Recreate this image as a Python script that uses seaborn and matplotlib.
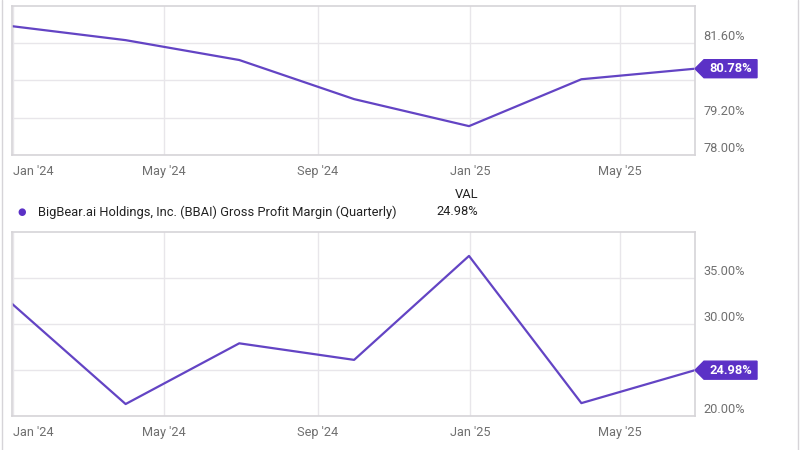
import numpy as np
import pandas as pd
import matplotlib
matplotlib.use("Agg")
import matplotlib.pyplot as plt
import matplotlib.dates as mdates
from matplotlib.patches import Polygon
import seaborn as sns

sns.set_theme(style="white")
plt.rcParams['font.family'] = ['Roboto', 'DejaVu Sans']

# quarterly data
quarters = ["2023-12-31", "2024-03-31", "2024-06-30", "2024-09-30",
            "2024-12-31", "2025-03-31", "2025-06-30"]
margin_top = [82.15, 81.70, 81.06, 79.80, 78.93, 80.44, 80.78]
margin_bbai = [32.2, 21.3, 27.9, 26.1, 37.4, 21.4, 24.98]

top_ticks = [78.00, 79.20, 80.40, 81.60]
bot_ticks = [20.0, 25.0, 30.0, 35.0]
x_ticks = ["2024-01-01", "2024-05-01", "2024-09-01", "2025-01-01", "2025-05-01"]

legend_name = "BigBear.ai Holdings, Inc. (BBAI) Gross Profit Margin (Quarterly)"

LINE = "#6344c4"
BADGE = "#5b31c6"
GRID = "#e8e6ea"
EDGE = "#d6d4d8"
TICK = "#707070"

W, H = 800, 450
fig = plt.figure(figsize=(8, 4.5), dpi=100)
fig.patch.set_facecolor("white")

df = pd.DataFrame({"date": pd.to_datetime(quarters),
                   "top": margin_top, "bbai": margin_bbai})


def make_ax(y_top_px, y_bot_px):
    return fig.add_axes([12 / W, 1 - y_bot_px / H, (695 - 12) / W, (y_bot_px - y_top_px) / H])


def style(ax, ylim, yticks, hidden):
    ax.set_xlim(pd.Timestamp("2023-12-31"), pd.Timestamp("2025-06-30"))
    ax.set_ylim(*ylim)
    ax.set_xticks(pd.to_datetime(x_ticks))
    ax.xaxis.set_major_formatter(mdates.DateFormatter("%b '%y"))
    ax.set_yticks(yticks)
    ax.yaxis.tick_right()
    labels = [f"{v:.2f}%" if v != hidden else "" for v in yticks]
    ax.set_yticklabels(labels)
    ax.grid(True, color=GRID, linewidth=1)
    ax.tick_params(axis="both", length=0, labelsize=9.2, labelcolor=TICK)
    ax.tick_params(axis="y", pad=6)
    ax.tick_params(axis="x", pad=7)
    for lab in ax.get_yticklabels():
        lab.set_verticalalignment("bottom")
    ax.get_xticklabels()[0].set_horizontalalignment("left")
    for s in ax.spines.values():
        s.set_color(EDGE)
        s.set_linewidth(1.2)
    ax.set_xlabel("")
    ax.set_ylabel("")


def badge(ax, value, text):
    bbox = ax.get_window_extent()
    ymin, ymax = ax.get_ylim()
    dy = (ymax - ymin) / bbox.height
    dx = 1.0 / bbox.width
    h = 9 * dy
    pts = [(1.0, value), (1 + 9 * dx, value + h), (1 + 62 * dx, value + h),
           (1 + 62 * dx, value - h), (1 + 9 * dx, value - h)]
    poly = Polygon(pts, closed=True, transform=ax.get_yaxis_transform(),
                   facecolor=BADGE, edgecolor=BADGE, clip_on=False, zorder=10)
    ax.add_patch(poly)
    ax.text(1 + 36 * dx, value, text, transform=ax.get_yaxis_transform(),
            ha="center", va="center", color="white", fontsize=9.3,
            fontweight="bold", zorder=11, clip_on=False)


ax1 = make_ax(6, 155)
sns.lineplot(data=df, x="date", y="top", ax=ax1, color=LINE, linewidth=1.6)
style(ax1, (78.0, 82.8), top_ticks, 80.40)
badge(ax1, margin_top[-1], f"{margin_top[-1]:.2f}%")

ax2 = make_ax(232, 416)
sns.lineplot(data=df, x="date", y="bbai", ax=ax2, color=LINE, linewidth=1.6)
style(ax2, (20.0, 40.0), bot_ticks, 25.0)
badge(ax2, margin_bbai[-1], f"{margin_bbai[-1]:.2f}%")

# legend row
fig.text(22 / W, 1 - 212 / H, "\u25CF", color=BADGE, fontsize=7, ha="center", va="center")
fig.text(38 / W, 1 - 212 / H, legend_name, color="#222222", fontsize=9.3, ha="left", va="center")
fig.text(478 / W, 1 - 195 / H, "VAL", color="#222222", fontsize=9.3, ha="right", va="center")
fig.text(478 / W, 1 - 212 / H, f"{margin_bbai[-1]:.2f}%", color="#222222", fontsize=9.3,
         ha="right", va="center")

# faint frame lines at the figure edges
fig.add_artist(plt.Line2D([2 / W, 2 / W], [0, 1], color=EDGE, linewidth=1, transform=fig.transFigure))
fig.add_artist(plt.Line2D([798 / W, 798 / W], [0, 1], color=EDGE, linewidth=1, transform=fig.transFigure))

fig.savefig("out.png", dpi=100, facecolor="white")
